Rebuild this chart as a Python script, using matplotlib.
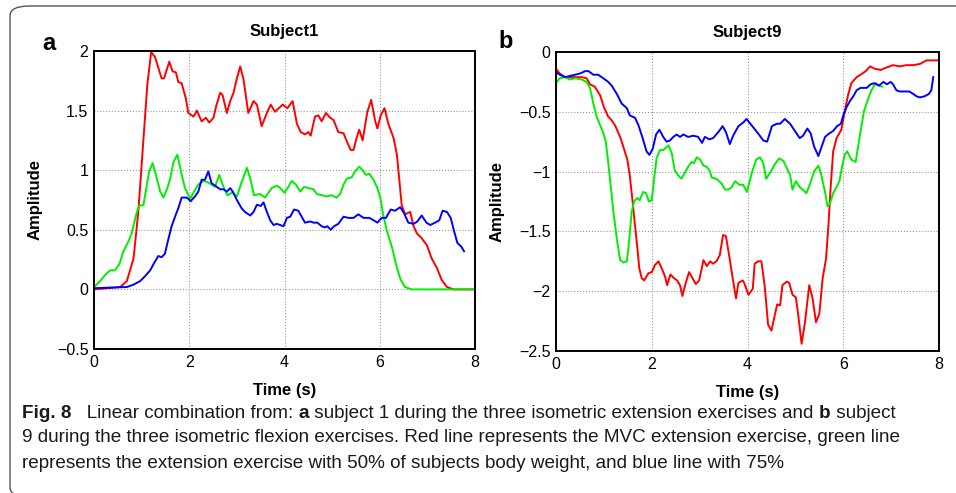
import matplotlib
matplotlib.use('Agg')
import matplotlib.pyplot as plt
from matplotlib import font_manager
from matplotlib.patches import FancyBboxPatch

# ---- data ----
# Subject 1 (panel a)
a_red_t = [0, 0.55, 0.69, 0.83, 0.93, 1.04, 1.12, 1.20, 1.28, 1.35, 1.42, 1.47, 1.58, 1.65, 1.72, 1.77,
           1.84, 1.93, 1.98, 2.09, 2.16, 2.26, 2.35, 2.42, 2.51, 2.56, 2.65, 2.70, 2.79, 2.86, 2.93, 3.00,
           3.07, 3.14, 3.24, 3.35, 3.42, 3.52, 3.63, 3.71, 3.80, 3.96, 4.06, 4.17, 4.26, 4.34, 4.43, 4.50,
           4.55, 4.64, 4.71, 4.78, 4.87, 4.96, 5.03, 5.13, 5.24, 5.31, 5.39, 5.45, 5.52, 5.57, 5.64, 5.74,
           5.82, 5.90, 5.95, 6.02, 6.10, 6.18, 6.29, 6.36, 6.42, 6.46, 6.53, 6.64, 6.71, 6.78, 6.88, 6.99,
           7.09, 7.20, 7.30, 7.41, 7.55, 8.0]
a_red_v = [0, 0.02, 0.07, 0.26, 0.65, 1.27, 1.72, 1.99, 1.95, 1.86, 1.77, 1.77, 1.91, 1.83, 1.82, 1.74,
           1.73, 1.60, 1.48, 1.45, 1.50, 1.41, 1.44, 1.40, 1.44, 1.53, 1.65, 1.63, 1.48, 1.58, 1.65, 1.77,
           1.87, 1.76, 1.48, 1.58, 1.55, 1.37, 1.48, 1.55, 1.49, 1.55, 1.52, 1.58, 1.39, 1.32, 1.30, 1.32,
           1.29, 1.45, 1.46, 1.41, 1.48, 1.44, 1.42, 1.32, 1.31, 1.24, 1.17, 1.17, 1.28, 1.34, 1.25, 1.49,
           1.59, 1.42, 1.35, 1.46, 1.52, 1.39, 1.27, 1.13, 0.88, 0.71, 0.63, 0.65, 0.53, 0.47, 0.43, 0.37,
           0.26, 0.18, 0.08, 0.02, 0.0, 0.0]

a_green_t = [0, 0.13, 0.23, 0.34, 0.44, 0.53, 0.62, 0.72, 0.79, 0.90, 0.95, 1.04, 1.11, 1.16, 1.23, 1.30,
             1.39, 1.46, 1.54, 1.60, 1.67, 1.75, 1.82, 1.91, 2.02, 2.10, 2.19, 2.30, 2.38, 2.47, 2.54, 2.63,
             2.72, 2.80, 2.89, 3.00, 3.10, 3.21, 3.28, 3.36, 3.49, 3.59, 3.73, 3.84, 3.91, 4.00, 4.08, 4.15,
             4.24, 4.33, 4.41, 4.50, 4.61, 4.68, 4.78, 4.89, 4.99, 5.09, 5.17, 5.24, 5.31, 5.41, 5.48, 5.57,
             5.64, 5.71, 5.78, 5.87, 5.95, 6.01, 6.07, 6.15, 6.26, 6.36, 6.44, 6.53, 6.67, 8.0]
a_green_v = [0.02, 0.07, 0.12, 0.16, 0.16, 0.21, 0.32, 0.40, 0.47, 0.65, 0.70, 0.71, 0.88, 0.99, 1.06, 0.96,
             0.82, 0.77, 0.85, 0.93, 1.07, 1.13, 1.00, 0.85, 0.76, 0.82, 0.88, 0.91, 0.90, 0.88, 0.86, 0.96,
             0.86, 0.79, 0.81, 0.78, 0.90, 1.02, 0.93, 0.79, 0.80, 0.77, 0.85, 0.87, 0.85, 0.81, 0.86, 0.91,
             0.88, 0.82, 0.86, 0.85, 0.84, 0.80, 0.79, 0.78, 0.79, 0.77, 0.80, 0.88, 0.93, 0.94, 0.99, 1.03,
             1.00, 0.96, 0.97, 0.92, 0.85, 0.77, 0.63, 0.49, 0.35, 0.18, 0.08, 0.02, 0.0, 0.0]

a_blue_t = [0, 0.69, 0.83, 0.97, 1.07, 1.18, 1.26, 1.35, 1.42, 1.49, 1.56, 1.63, 1.72, 1.77, 1.84, 1.95,
            2.03, 2.12, 2.19, 2.26, 2.33, 2.40, 2.47, 2.58, 2.65, 2.72, 2.79, 2.86, 2.93, 3.00, 3.10, 3.17,
            3.28, 3.35, 3.42, 3.50, 3.56, 3.63, 3.70, 3.77, 3.84, 3.91, 3.98, 4.05, 4.12, 4.20, 4.29, 4.36,
            4.43, 4.54, 4.61, 4.69, 4.78, 4.85, 4.90, 4.97, 5.04, 5.13, 5.24, 5.34, 5.45, 5.55, 5.66, 5.78,
            5.87, 5.95, 6.04, 6.13, 6.23, 6.32, 6.43, 6.51, 6.60, 6.71, 6.79, 6.88, 6.98, 7.06, 7.16, 7.25,
            7.32, 7.41, 7.49, 7.56, 7.63, 7.71, 7.77]
a_blue_v = [0.01, 0.02, 0.04, 0.07, 0.11, 0.16, 0.22, 0.28, 0.27, 0.30, 0.42, 0.53, 0.63, 0.68, 0.77, 0.77,
            0.74, 0.78, 0.82, 0.92, 0.92, 0.99, 0.89, 0.86, 0.84, 0.84, 0.82, 0.85, 0.81, 0.75, 0.68, 0.65,
            0.62, 0.65, 0.71, 0.70, 0.73, 0.65, 0.58, 0.54, 0.55, 0.54, 0.53, 0.60, 0.61, 0.67, 0.66, 0.61,
            0.56, 0.57, 0.56, 0.56, 0.53, 0.52, 0.53, 0.50, 0.53, 0.55, 0.61, 0.60, 0.60, 0.63, 0.60, 0.60,
            0.58, 0.56, 0.60, 0.60, 0.67, 0.66, 0.69, 0.64, 0.56, 0.55, 0.57, 0.62, 0.56, 0.54, 0.56, 0.58,
            0.66, 0.65, 0.60, 0.49, 0.39, 0.36, 0.32]

# Subject 9 (panel b)
b_red_t = [0, 0.08, 0.19, 0.29, 0.43, 0.54, 0.64, 0.71, 0.81, 0.92, 1.00, 1.09, 1.16, 1.23, 1.34, 1.42,
           1.49, 1.54, 1.60, 1.65, 1.70, 1.74, 1.79, 1.84, 1.93, 2.00, 2.07, 2.14, 2.21, 2.28, 2.32, 2.39,
           2.46, 2.53, 2.59, 2.64, 2.71, 2.78, 2.85, 2.92, 2.99, 3.08, 3.15, 3.22, 3.28, 3.35, 3.42, 3.49,
           3.55, 3.62, 3.69, 3.76, 3.81, 3.90, 3.93, 4.02, 4.11, 4.15, 4.22, 4.29, 4.36, 4.43, 4.50, 4.57,
           4.62, 4.68, 4.73, 4.82, 4.87, 4.94, 5.01, 5.06, 5.13, 5.20, 5.29, 5.36, 5.43, 5.50, 5.57, 5.64,
           5.69, 5.74, 5.79, 5.86, 5.96, 6.03, 6.10, 6.17, 6.28, 6.36, 6.47, 6.56, 6.66, 6.78, 6.90, 7.04,
           7.18, 7.32, 7.46, 7.60, 7.74, 7.84, 7.98]
b_red_v = [-0.14, -0.18, -0.21, -0.21, -0.21, -0.21, -0.22, -0.27, -0.29, -0.36, -0.46, -0.54, -0.57, -0.61,
           -0.71, -0.81, -0.90, -1.03, -1.25, -1.45, -1.64, -1.81, -1.89, -1.91, -1.85, -1.84, -1.78, -1.75,
           -1.81, -1.88, -1.95, -1.86, -1.89, -1.91, -1.95, -2.04, -1.93, -1.84, -1.89, -1.94, -1.91, -1.74,
           -1.79, -1.75, -1.77, -1.75, -1.70, -1.53, -1.54, -1.71, -1.89, -2.06, -1.93, -1.91, -1.93, -2.03,
           -1.98, -1.77, -1.75, -1.75, -1.96, -2.28, -2.33, -2.20, -2.11, -2.12, -1.95, -1.92, -1.93, -2.03,
           -2.05, -2.20, -2.44, -2.26, -1.95, -2.06, -2.26, -2.19, -1.89, -1.73, -1.45, -1.11, -0.83, -0.72,
           -0.65, -0.50, -0.36, -0.26, -0.21, -0.19, -0.16, -0.12, -0.14, -0.15, -0.13, -0.11, -0.12, -0.11,
           -0.11, -0.10, -0.07, -0.07, -0.07]

b_green_t = [0, 0.08, 0.19, 0.29, 0.40, 0.54, 0.64, 0.71, 0.78, 0.85, 0.92, 0.99, 1.04, 1.09, 1.14, 1.20,
             1.27, 1.34, 1.41, 1.48, 1.52, 1.58, 1.63, 1.70, 1.75, 1.82, 1.88, 1.94, 2.00, 2.05, 2.10, 2.17,
             2.24, 2.35, 2.42, 2.48, 2.55, 2.62, 2.69, 2.76, 2.83, 2.88, 2.94, 3.01, 3.08, 3.15, 3.22, 3.25,
             3.35, 3.46, 3.53, 3.60, 3.67, 3.74, 3.83, 3.91, 3.99, 4.09, 4.18, 4.26, 4.33, 4.39, 4.47, 4.57,
             4.66, 4.75, 4.82, 4.89, 4.94, 5.01, 5.09, 5.18, 5.23, 5.30, 5.39, 5.48, 5.53, 5.62, 5.67, 5.72,
             5.79, 5.86, 5.92, 5.97, 6.03, 6.08, 6.17, 6.26, 6.35, 6.43, 6.52, 6.59, 6.66, 6.73, 6.82]
b_green_v = [-0.26, -0.22, -0.21, -0.23, -0.22, -0.23, -0.25, -0.30, -0.43, -0.54, -0.61, -0.68, -0.75,
             -0.92, -1.11, -1.34, -1.56, -1.74, -1.76, -1.75, -1.61, -1.34, -1.25, -1.22, -1.24, -1.17,
             -1.18, -1.25, -1.24, -1.06, -0.89, -0.82, -0.82, -0.78, -0.85, -0.99, -1.03, -1.06, -1.01,
             -0.96, -0.92, -0.93, -0.88, -0.90, -0.95, -0.96, -1.00, -1.05, -1.06, -1.10, -1.15, -1.15,
             -1.13, -1.08, -1.11, -1.11, -1.17, -1.01, -0.90, -0.88, -0.93, -1.06, -1.01, -0.94, -0.89,
             -0.91, -0.97, -1.03, -1.15, -1.08, -1.13, -1.16, -1.18, -1.11, -1.00, -0.95, -1.01, -1.17,
             -1.29, -1.27, -1.18, -1.13, -1.08, -0.97, -0.86, -0.83, -0.90, -0.92, -0.69, -0.50, -0.39,
             -0.32, -0.27, -0.28, -0.29]

b_blue_t = [0, 0.08, 0.19, 0.29, 0.40, 0.50, 0.61, 0.68, 0.78, 0.88, 0.99, 1.09, 1.16, 1.27, 1.37, 1.48,
            1.54, 1.65, 1.72, 1.81, 1.89, 1.95, 2.02, 2.09, 2.16, 2.24, 2.31, 2.38, 2.45, 2.52, 2.59, 2.66,
            2.76, 2.87, 2.97, 3.05, 3.11, 3.20, 3.28, 3.39, 3.48, 3.55, 3.63, 3.70, 3.81, 3.91, 3.98, 4.08,
            4.22, 4.33, 4.41, 4.51, 4.61, 4.68, 4.78, 4.89, 4.99, 5.09, 5.16, 5.25, 5.32, 5.39, 5.48, 5.55,
            5.62, 5.71, 5.79, 5.87, 5.95, 6.00, 6.07, 6.14, 6.21, 6.28, 6.36, 6.49, 6.57, 6.66, 6.75, 6.84,
            6.91, 6.99, 7.04, 7.11, 7.18, 7.27, 7.38, 7.46, 7.53, 7.60, 7.70, 7.79, 7.84, 7.88]
b_blue_v = [-0.17, -0.19, -0.21, -0.20, -0.19, -0.18, -0.16, -0.16, -0.19, -0.19, -0.22, -0.25, -0.28,
            -0.35, -0.43, -0.47, -0.53, -0.55, -0.61, -0.72, -0.83, -0.86, -0.81, -0.69, -0.65, -0.71,
            -0.75, -0.74, -0.71, -0.69, -0.71, -0.69, -0.71, -0.70, -0.71, -0.76, -0.71, -0.73, -0.72,
            -0.67, -0.62, -0.67, -0.77, -0.70, -0.62, -0.59, -0.56, -0.61, -0.68, -0.74, -0.75, -0.62,
            -0.60, -0.60, -0.56, -0.60, -0.66, -0.72, -0.70, -0.64, -0.68, -0.79, -0.87, -0.79, -0.71,
            -0.68, -0.66, -0.62, -0.60, -0.53, -0.46, -0.41, -0.37, -0.32, -0.30, -0.30, -0.27, -0.26,
            -0.28, -0.25, -0.27, -0.25, -0.27, -0.32, -0.33, -0.33, -0.33, -0.35, -0.37, -0.38, -0.37,
            -0.35, -0.32, -0.21]

titles = ['Subject1', 'Subject9']
panel_letters = ['a', 'b']
x_ticks = [0, 2, 4, 6, 8]
a_yticks = [-0.5, 0, 0.5, 1, 1.5, 2]
b_yticks = [-2.5, -2, -1.5, -1, -0.5, 0]

caption_lines = [
    [('Fig. 8', 'bold'), ('   Linear combination from: ', 'normal'), ('a', 'bold'),
     (' subject 1 during the three isometric extension exercises and ', 'normal'), ('b', 'bold'),
     (' subject', 'normal')],
    [('9 during the three isometric flexion exercises. Red line represents the MVC extension exercise, green line',
      'normal')],
    [('represents the extension exercise with 50% of subjects body weight, and blue line with 75%', 'normal')],
]

# ---- fonts ----
names = {f.name for f in font_manager.fontManager.ttflist}
main_font = 'Liberation Sans' if 'Liberation Sans' in names else 'DejaVu Sans'
cap_font = 'Liberation Sans Narrow' if 'Liberation Sans Narrow' in names else main_font
plt.rcParams['font.family'] = main_font

W, H = 956, 493
fig = plt.figure(figsize=(W / 100, H / 100), dpi=100)

def px_rect(l, t, r, b):
    return [l / W, 1 - b / H, (r - l) / W, (b - t) / H]

ax1 = fig.add_axes(px_rect(94, 51, 475, 349))
ax2 = fig.add_axes(px_rect(556, 52, 939, 351))

panels = [
    (ax1, [(a_red_t, a_red_v, '#ff0000'), (a_green_t, a_green_v, '#00ee00'), (a_blue_t, a_blue_v, '#0000ff')],
     a_yticks),
    (ax2, [(b_red_t, b_red_v, '#ff0000'), (b_green_t, b_green_v, '#00ee00'), (b_blue_t, b_blue_v, '#0000ff')],
     b_yticks),
]

for i, (ax, series, yt) in enumerate(panels):
    for t, v, c in series:
        ax.plot(t, v, color=c, lw=1.4)
    ax.set_xlim(0, 8)
    ax.set_ylim(yt[0], yt[-1])
    ax.set_xticks(x_ticks)
    ax.set_yticks(yt)
    ax.set_yticklabels([('%g' % y).replace('-', '\u2212') for y in yt])
    ax.grid(True, linestyle=':', color='#999999', lw=0.8)
    ax.tick_params(direction='in', top=True, right=True, labelsize=11.5, length=0, pad=4)
    for s in ax.spines.values():
        s.set_linewidth(1.4)
    ax.set_title(titles[i], fontsize=12, fontweight='bold', pad=11)
    ax.set_xlabel('Time (s)', fontsize=12, fontweight='bold', labelpad=10)
    ax.set_ylabel('Amplitude', fontsize=12, fontweight='bold', labelpad=10)

fig.text(49 / W, 1 - 43 / H, panel_letters[0], fontsize=17, fontweight='bold', va='center', ha='center')
fig.text(506 / W, 1 - 42 / H, panel_letters[1], fontsize=17, fontweight='bold', va='center', ha='center')

# rounded frame around the figure (right and bottom sides lie outside the picture)
frame = FancyBboxPatch((10 / W, 1 - 497 / H), 1.1, (497 - 6) / H,
                       boxstyle='round,pad=0,rounding_size=0.02', transform=fig.transFigure,
                       fill=False, edgecolor='#555555', lw=1.0, clip_on=False)
fig.patches.append(frame)

# caption, drawn segment by segment so parts can be bold
fig.canvas.draw()
renderer = fig.canvas.get_renderer()
line_y = [413, 438, 463]
for line, y in zip(caption_lines, line_y):
    x = 22
    for txt, wt in line:
        tt = fig.text(x / W, 1 - y / H, txt, fontsize=13.6, fontweight=wt, family=cap_font,
                      va='center', ha='left', color='#1a1a1a')
        bb = tt.get_window_extent(renderer=renderer)
        x += bb.width

fig.savefig('out.png', dpi=100)
